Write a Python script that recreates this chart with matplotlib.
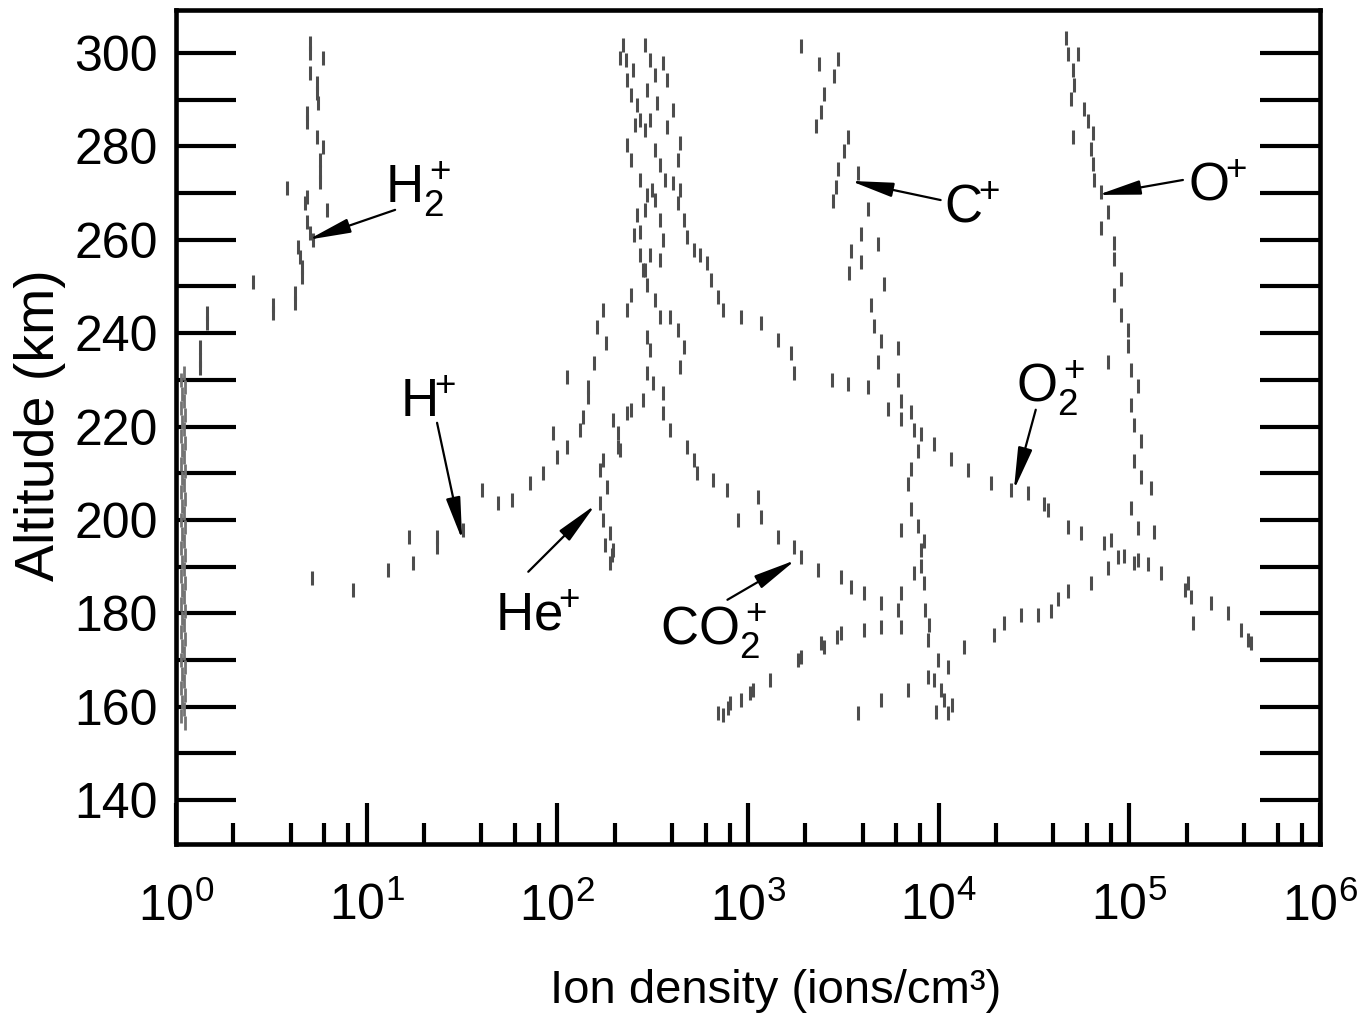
import matplotlib.pyplot as plt
from matplotlib.ticker import LogLocator, NullFormatter

# -----------------------
# Data: ion density (ions/cm^3) vs altitude (km)
# -----------------------
h2p_n = [5.05, 5.05, 5.91, 5.05, 5.50, 5.50, 5.56, 4.87, 4.87, 5.50, 5.91, 5.70, 5.70, 5.70, 3.83,
         4.87, 4.75, 6.2, 4.87, 5.05, 5.24, 4.37, 4.48, 4.59, 4.59, 2.54, 4.21, 4.21, 3.23, 3.23,
         1.45, 1.45, 1.34, 1.34, 1.34]
h2p_alt = [302.1, 300.0, 298.9, 295.7, 293.6, 291.4, 289.3, 287.2, 285.2, 282.0, 279.9, 277.1, 274.5,
           272.4, 271.1, 269.2, 267.9, 266.4, 263.8, 261.5, 260.0, 258.5, 256.3, 254.2, 252.0, 251.0,
           248.6, 246.5, 246.0, 244.3, 244.3, 242.2, 237.0, 234.3, 232.5]

# low-density floor column near 1 ion/cm^3
floor_n = [1.10, 1.06, 1.12, 1.08, 1.10, 1.06, 1.12, 1.08, 1.10, 1.06, 1.12, 1.08, 1.10, 1.06,
           1.12, 1.08, 1.10, 1.06, 1.12, 1.08, 1.10, 1.06, 1.12, 1.08, 1.10, 1.06, 1.12, 1.08,
           1.10, 1.06, 1.12, 1.08, 1.10, 1.06, 1.12, 1.08, 1.10, 1.06, 1.12, 1.08, 1.10, 1.06,
           1.12, 1.08, 1.10, 1.06, 1.12, 1.08, 1.10, 1.06, 1.12]
floor_alt = [231.5, 230.0, 228.5, 227.0, 225.5, 224.0, 222.5, 221.0, 219.5, 218.0, 216.5, 215.0,
             213.5, 212.0, 210.5, 209.0, 207.5, 206.0, 204.5, 203.0, 201.5, 200.0, 198.5, 197.0,
             195.5, 194.0, 192.5, 191.0, 189.5, 188.0, 186.5, 185.0, 183.5, 182.0, 180.5, 179.0,
             177.5, 176.0, 174.5, 173.0, 171.5, 170.0, 168.5, 167.0, 165.5, 164.0, 162.5, 161.0,
             159.5, 158.0, 156.5]

hp_n = [5.17, 8.5, 13.0, 16.7, 17.5, 23.4, 23.4, 29.9, 32.1, 40.4, 49.0, 58.0, 72.1, 84.5, 100,
        113, 95.3, 132, 137, 144, 144, 113, 155, 179, 162, 174, 233, 242, 290, 273, 251, 263, 297,
        273, 242, 233, 273, 263, 242, 233, 228, 222, 214, 248, 257, 290, 273]
hp_alt = [187.6, 185.0, 189.3, 196.4, 190.8, 194.2, 196.4, 200.6, 197.9, 206.4, 203.6, 204.3, 207.9,
          210.1, 213.5, 215.6, 218.6, 219.3, 222.1, 226.3, 228.5, 230.6, 233.6, 237.9, 241.3, 245.0,
          245.0, 248.2, 253.5, 256.7, 261.0, 265.3, 269.6, 272.8, 277.1, 280.3, 285.7, 288.9,
          291.0, 294.2, 298.5, 301.7, 299.0, 296.4, 284.6, 266.4, 261.7]

hep_n = [190, 197, 190, 174, 168, 183, 168, 174, 207, 207, 197, 242, 283, 233, 214, 319, 297, 308,
         297, 347, 327, 297, 283, 308, 360, 347, 327, 315, 347, 327, 308, 297, 308, 290, 178, 194,
         327, 290, 369, 347]
hep_alt = [190.8, 193.6, 197.2, 200.0, 203.6, 207.1, 210.7, 212.8, 215.6, 218.6, 221.4, 223.6,
           225.7, 223.0, 215.0, 229.3, 231.5, 236.4, 239.2, 243.5, 247.1, 250.3, 253.5, 256.7,
           260.0, 264.2, 268.5, 270.7, 276.0, 279.2, 285.7, 292.1, 298.5, 301.7, 194.7, 192.5,
           295.3, 283.5, 272.8, 255.7]

co2p_n = [392, 427, 459, 442, 360, 360, 392, 481, 518, 543, 659, 780, 881, 1122, 1164, 1429, 1733,
          1888, 2317, 3060, 3452, 4040, 4960, 6090, 6320, 8750, 9890, 9420, 10620, 11150, 10240,
          11780, 9630]
co2p_alt = [243.5, 240.7, 237.0, 232.8, 227.2, 222.9, 219.3, 215.6, 212.8, 210.1, 208.6, 206.4,
            200.0, 204.9, 200.6, 196.4, 194.2, 192.1, 189.3, 187.8, 185.7, 184.4, 182.2, 180.7,
            177.1, 174.3, 170.0, 165.7, 161.5, 158.7, 163.6, 160.4, 158.9]

cp_n = [1888, 2345, 2950, 2810, 2490, 2404, 2262, 3330, 3170, 2950, 2890, 2780, 3760, 4240, 3900,
        3452, 4790, 3900, 3370, 5140, 4400, 4560, 4960, 6090, 4790, 6090, 6320, 7130, 7390, 7760,
        7130, 6870, 7130, 7760, 6320, 8340, 8050, 8050, 7390, 8340, 6320, 8520, 8950]
cp_alt = [301.5, 297.6, 298.7, 295.1, 291.2, 287.4, 284.4, 282.0, 279.0, 275.2, 271.3, 268.3, 274.3,
          266.6, 261.2, 257.6, 259.1, 255.2, 252.9, 250.5, 246.0, 241.5, 238.3, 236.8, 233.8, 230.0,
          225.5, 223.1, 219.3, 214.8, 210.9, 207.7, 202.4, 198.7, 197.9, 195.5, 190.2, 193.6, 188.7,
          186.5, 184.4, 180.7, 177.5]

cp_low_n = [692, 809, 914, 1030, 1063, 1312, 1824, 1888, 2404, 2490, 2930, 3060, 4040, 4960, 735, 790]
cp_low_alt = [158.7, 160.8, 161.5, 163.0, 163.6, 165.7, 170.0, 170.7, 173.7, 172.8, 175.0, 175.8,
              176.4, 177.1, 158.2, 159.7]

op_n = [46400, 47600, 53700, 50500, 51100, 49300, 57700, 60600, 50500, 64300, 62700, 64300, 65100,
        70800, 77100, 70800, 82900, 82900, 90200, 82900, 90200, 98200, 98200, 77100, 101800,
        110900, 101800, 105500, 115600, 105500, 115600, 129700, 101800, 110900, 134600, 80000,
        93600, 77100, 110900, 125000, 62800, 47500, 42200, 38700, 33100, 27000, 21900, 19400,
        13500, 11150, 8750, 6870, 4960, 3760]
op_alt = [303.2, 299.8, 299.8, 296.4, 293.1, 290.1, 288.0, 285.4, 282.0, 282.9, 279.4, 276.2, 272.8,
          270.2, 266.0, 262.5, 259.3, 255.9, 251.6, 248.2, 243.9, 240.7, 237.3, 233.8, 232.1, 228.7,
          224.6, 220.3, 216.9, 212.6, 209.2, 206.9, 202.6, 198.3, 197.4, 195.7, 192.3, 189.7, 191.4,
          190.6, 186.5, 184.8, 183.1, 180.5, 179.7, 179.7, 178.0, 175.4, 172.8, 168.5, 166.4, 163.6,
          161.5, 158.7]

o2p_n = [360, 378, 335, 378, 442, 427, 406, 427, 459, 481, 518, 613, 636, 692, 743, 914, 1164, 1429,
         1672, 1733, 2743, 3330, 4240, 5400, 6320, 8050, 9420, 11560, 14200, 18740, 23900, 29300,
         35600, 37300, 47600, 55600, 73500, 87000, 105700, 146300, 202900, 210400, 267800, 328700,
         384800, 418800, 433500, 214900, 197000, 406, 442, 563]
o2p_alt = [297.9, 294.2, 289.3, 284.2, 280.7, 277.1, 272.2, 267.9, 264.2, 260.6, 257.8, 255.0, 251.4,
           247.8, 245.0, 243.5, 242.2, 238.5, 235.8, 231.5, 230.0, 229.1, 228.5, 223.8, 221.6, 218.4,
           216.3, 213.1, 210.7, 207.9, 206.4, 205.8, 203.4, 202.1, 198.5, 197.2, 195.1, 192.1, 190.8,
           188.7, 186.5, 183.5, 182.2, 180.1, 176.4, 174.3, 173.7, 178.0, 185.0, 287.8, 270.7, 256.7]

x_ticks = [1, 10, 100, 1e3, 1e4, 1e5, 1e6]
x_tick_labels = ['$10^0$', '$10^1$', '$10^2$', '$10^3$', '$10^4$', '$10^5$', '$10^6$']
y_major = [140, 160, 180, 200, 220, 240, 260, 280, 300]
y_minor = [150, 170, 190, 210, 230, 250, 270, 290]

# -----------------------
# Fonts
# -----------------------
plt.rcParams['font.family'] = ['Liberation Sans', 'DejaVu Sans']
plt.rcParams['mathtext.fontset'] = 'custom'
plt.rcParams['mathtext.rm'] = 'Liberation Sans'
plt.rcParams['mathtext.it'] = 'Liberation Sans'
plt.rcParams['mathtext.bf'] = 'Liberation Sans:bold'

fig = plt.figure(figsize=(13.62, 10.13), dpi=100)
ax = fig.add_axes([176 / 1362, 1 - 844 / 1013, 1144 / 1362, 834 / 1013])
ax.set_xscale('log')
ax.set_xlim(1, 1e6)
ax.set_ylim(130.6, 309.2)

# -----------------------
# Data marks
# -----------------------
mk = dict(ls='none', marker='|', ms=10, mew=2.2, color='0.3')
series = [(h2p_n, h2p_alt), (hp_n, hp_alt), (hep_n, hep_alt),
          (co2p_n, co2p_alt), (cp_n, cp_alt), (cp_low_n, cp_low_alt), (op_n, op_alt),
          (o2p_n, o2p_alt)]
for n, alt in series:
    ax.plot(n, alt, **mk)
ax.plot(floor_n, floor_alt, ls='none', marker='|', ms=10, mew=2.0, color='0.45')

# -----------------------
# Axes styling
# -----------------------
for s in ax.spines.values():
    s.set_linewidth(3.3)

ax.set_xticks(x_ticks, x_tick_labels)
ax.xaxis.set_minor_locator(LogLocator(base=10, subs=(2.0, 4.0, 6.0, 8.0), numticks=20))
ax.xaxis.set_minor_formatter(NullFormatter())
ax.set_yticks(y_major)
ax.set_yticks(y_minor, minor=True)

ax.tick_params(axis='y', which='both', direction='in', length=43, width=3.0,
               left=True, right=True, labelsize=36, pad=13)
ax.tick_params(axis='x', which='major', direction='in', length=29.5, width=3.0,
               top=False, labelsize=36, pad=28)
ax.tick_params(axis='x', which='minor', direction='in', length=15, width=3.0, top=False)

fig.text(40 / 1362, 1 - 425 / 1013, 'Altitude (km)', rotation=90, ha='center', va='center',
         fontsize=40)
fig.text(776 / 1362, 1 - 1003 / 1013, 'Ion density (ions/cm³)', ha='center', va='baseline',
         fontsize=34)

# -----------------------
# Labels with arrows
# -----------------------
lab = dict(fontsize=38, ha='left', va='baseline')
ax.text(12.5, 267.9, r'$\mathrm{H}_2^+$', **lab)
ax.text(15.0, 222.1, r'$\mathrm{H}^{\!\!+}$', **lab)
ax.text(47.3, 176.4, r'$\mathrm{He}^{\!\!+}$', **lab)
ax.text(347, 173.2, r'$\mathrm{CO}_2^+$', **lab)
ax.text(10620, 263.8, r'$\mathrm{C}^{\!\!+}$', **lab)
ax.text(202900, 268.5, r'$\mathrm{O}^{\!\!+}$', **lab)
ax.text(25350, 225.3, r'$\mathrm{O}_2^+$', **lab)

arr = dict(arrowstyle='-|>,head_length=1.3,head_width=0.22', lw=1.6, color='black',
           mutation_scale=20, shrinkA=0, shrinkB=0)
ax.annotate('', xy=(4.93, 260.0), xytext=(14.1, 266.4), arrowprops=arr)
ax.annotate('', xy=(31.7, 195.7), xytext=(23.4, 220.8), arrowprops=arr)
ax.annotate('', xy=(158, 203.2), xytext=(70.4, 188.9), arrowprops=arr)
ax.annotate('', xy=(1775, 191.4), xytext=(780, 182.9), arrowprops=arr)
ax.annotate('', xy=(3450, 272.6), xytext=(10240, 268.5), arrowprops=arr)
ax.annotate('', xy=(68400, 269.6), xytext=(191000, 272.8), arrowprops=arr)
ax.annotate('', xy=(24800, 206.4), xytext=(32300, 223.6), arrowprops=arr)

fig.savefig('out.png', dpi=100)
